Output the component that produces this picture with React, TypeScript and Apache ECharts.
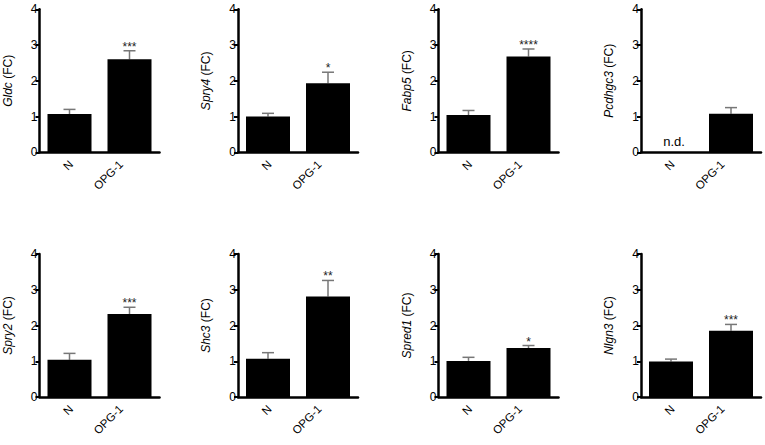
import React, { useEffect, useRef } from "react";
import * as echarts from "echarts";

const genes = ["Gldc", "Spry4", "Fabp5", "Pcdhgc3", "Spry2", "Shc3", "Spred1", "Nlgn3"];
const categories = ["N", "OPG-1"];
const nMeans: (number | null)[] = [1.07, 1.0, 1.04, null, 1.04, 1.07, 1.01, 0.99];
const nSem: (number | null)[] = [0.13, 0.09, 0.13, null, 0.18, 0.17, 0.1, 0.07];
const opgMeans = [2.6, 1.93, 2.68, 1.08, 2.32, 2.81, 1.37, 1.85];
const opgSem = [0.24, 0.31, 0.21, 0.17, 0.19, 0.45, 0.07, 0.18];
const significance = ["***", "*", "****", "", "***", "**", "*", "***"];
const nNote = ["", "", "", "n.d.", "", "", "", ""];
const yTicks = [0, 1, 2, 3, 4];

const FONT = "Liberation Sans, Arial, Helvetica, sans-serif";

export default function App() {
  const ref = useRef<HTMLDivElement>(null);
  useEffect(() => {
    if (!ref.current) return;
    const chart = echarts.init(ref.current, undefined, { renderer: "svg" });
    const lefts = [39.5, 238, 438.5, 641];
    const tops = [9.3, 254];
    const labelDx = [1.5, -8.5];
    const grid: any[] = [];
    const xAxis: any[] = [];
    const yAxis: any[] = [];
    const series: any[] = [];
    genes.forEach((g, i) => {
      const col = i % 4;
      const row = Math.floor(i / 4);
      grid.push({ left: lefts[col], top: tops[row], width: 120, height: 143 });
      xAxis.push({
        gridIndex: i,
        type: "category",
        data: categories,
        axisLine: { lineStyle: { color: "#000", width: 2.5 } },
        axisTick: { show: false },
        axisLabel: { show: false },
      });
      yAxis.push({
        gridIndex: i,
        type: "value",
        min: yTicks[0],
        max: yTicks[yTicks.length - 1],
        interval: 1,
        name: `{i|${g}} (FC)`,
        nameLocation: "middle",
        nameGap: 26,
        nameTextStyle: {
          fontSize: 12,
          color: "#000",
          fontFamily: FONT,
          rich: { i: { fontStyle: "italic", fontSize: 12, color: "#000", fontFamily: FONT } },
        },
        axisLine: { show: true, lineStyle: { color: "#000", width: 2.5 } },
        axisTick: { show: true, length: 4, lineStyle: { color: "#000", width: 2 } },
        axisLabel: { fontSize: 12, color: "#000", fontFamily: FONT, margin: 2 },
        splitLine: { show: false },
      });
      const barData = [nMeans[i] === null ? "-" : nMeans[i], opgMeans[i]];
      series.push({
        type: "bar",
        xAxisIndex: i,
        yAxisIndex: i,
        data: barData,
        barWidth: 44,
        itemStyle: { color: "#000" },
        silent: true,
      });
      const errData: any[] = [];
      if (nMeans[i] !== null) errData.push([0, nMeans[i], (nMeans[i] as number) + (nSem[i] as number)]);
      else errData.push([0, 0, 0]);
      errData.push([1, opgMeans[i], opgMeans[i] + opgSem[i]]);
      series.push({
        type: "custom",
        xAxisIndex: i,
        yAxisIndex: i,
        data: errData,
        silent: true,
        clip: false,
        renderItem: (params: any, api: any) => {
          const idx = params.dataIndex;
          const x = api.value(0);
          const mean = api.value(1);
          const top = api.value(2);
          const base = api.coord([x, 0]);
          const p0 = api.coord([x, mean]);
          const p1 = api.coord([x, top]);
          const children: any[] = [];
          children.push({
            type: "text",
            x: base[0] + labelDx[idx],
            y: base[1] + 10,
            rotation: Math.PI / 4,
            style: {
              text: categories[idx],
              fill: "#000",
              fontSize: 11.5,
              fontFamily: FONT,
              align: "right",
              verticalAlign: "middle",
            },
          });
          if (idx === 0 && nMeans[i] === null) {
            children.push({
              type: "text",
              style: {
                x: p0[0] + 3,
                y: p0[1] - 4,
                text: nNote[i],
                fill: "#000",
                fontSize: 13,
                fontFamily: FONT,
                align: "center",
                verticalAlign: "bottom",
              },
            });
            return { type: "group", children };
          }
          const ls = { stroke: "#777", lineWidth: 1.5 };
          children.push({ type: "line", shape: { x1: p0[0], y1: p0[1], x2: p1[0], y2: p1[1] }, style: ls });
          children.push({ type: "line", shape: { x1: p1[0] - 6, y1: p1[1], x2: p1[0] + 6, y2: p1[1] }, style: ls });
          if (idx === 1 && significance[i]) {
            children.push({
              type: "text",
              style: {
                x: p1[0],
                y: p1[1] + 2,
                text: significance[i],
                fill: "#222",
                fontSize: 12,
                fontFamily: FONT,
                align: "center",
                verticalAlign: "bottom",
              },
            });
          }
          return { type: "group", children };
        },
      });
    });
    chart.setOption({
      animation: false,
      backgroundColor: "#fff",
      grid,
      xAxis,
      yAxis,
      series,
    });
    return () => chart.dispose();
  }, []);
  return (
    <div
      ref={ref}
      style={{ position: "fixed", left: 0, top: 0, width: 765, height: 445, background: "#fff" }}
    />
  );
}
